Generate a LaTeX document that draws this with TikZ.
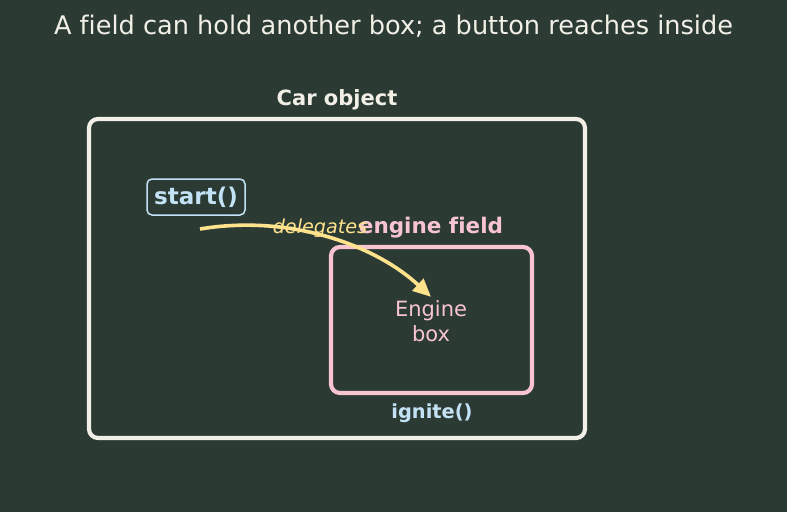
\documentclass[tikz,border=0pt]{standalone}
\usepackage{fontspec}
\setmainfont[Ligatures=NoCommon]{DejaVu Sans}
\usepackage{xcolor}
\usepackage{tikz}
\usetikzlibrary{arrows.meta, positioning}
\definecolor{bgdark}{HTML}{2B3B34}
\definecolor{chalk}{HTML}{F2F0E6}
\definecolor{pinkline}{HTML}{F8C4D0}
\definecolor{skyblue}{HTML}{C4E2F6}
\definecolor{butter}{HTML}{FFE38C}

\begin{document}
\begin{tikzpicture}[x=1pt, y=-1pt,
    outerbox/.style={draw=chalk, line width=4.2pt, rounded corners=9pt},
    fieldbox/.style={draw=pinkline, line width=4.2pt, rounded corners=9pt},
    button/.style={draw=skyblue, line width=1.5pt, rounded corners=5pt, text=skyblue, font=\fontsize{23}{27}\selectfont\bfseries, inner sep=0pt, minimum width=98pt, minimum height=36pt},
    heading/.style={font=\fontsize{21}{25}\selectfont\bfseries},
    arr/.style={-{Triangle[length=18pt, width=16pt]}, line width=3.6pt, color=butter}
]
    \fill[bgdark] (0,0) rectangle (787,512);
    \useasboundingbox (0,0) rectangle (787,512);

    % Title
    \node[text=chalk, font=\fontsize{25.6}{30}\selectfont] (title) at (393.5,26) {A field can hold another box; a button reaches inside};

    % Car object
    \draw[outerbox] (89,119) rectangle (585,438);
    \node[heading, text=chalk] (carlabel) at (337,100) {Car object};

    % Button
    \node[button] (start) at (196,197) {start()};

    % Engine field
    \draw[fieldbox] (331,247) rectangle (532,393);
    \node[heading, text=pinkline, font=\fontsize{21.5}{25}\selectfont\bfseries] (fieldlabel) at (431,228) {engine field};
    \node[text=pinkline, font=\fontsize{21}{25}\selectfont, align=center] (engine) at (431,321) {Engine\\box};
    \node[text=skyblue, font=\fontsize{19.4}{23}\selectfont\bfseries] (ignite) at (432,413) {ignite()};

    % Delegation
    \coordinate (from) at (200,229);
    \draw[arr] (from) .. controls (290,214) and (375,245) .. (engine.north);
    \node[text=butter, font=\fontsize{19.2}{23}\selectfont\itshape] (deleg) at (320,228) {delegates};
\end{tikzpicture}
\end{document}
